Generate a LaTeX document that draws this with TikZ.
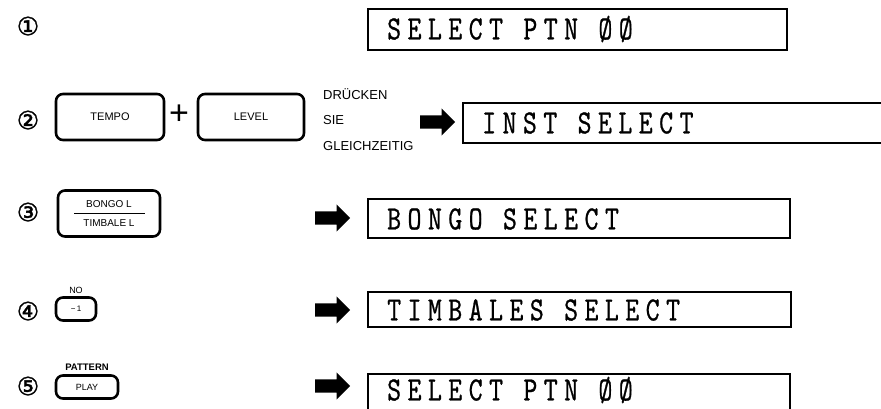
\documentclass[tikz,border=0pt]{standalone}
\usepackage{fontspec}
\newfontfamily\sansf{Liberation Sans}
\newfontfamily\circf{DejaVu Sans}[FakeBold=1.5]
\newfontfamily\lcdf{lmmono10-regular.otf}[FakeStretch=0.78,LetterSpace=19,FakeBold=0.7]
\usetikzlibrary{shapes.arrows}
\tikzset{
  lcdbox/.style={draw, line width=1.4pt},
  lcdtext/.style={anchor=west, inner sep=0, font=\lcdf\fontsize{34}{34}\selectfont},
  keybox/.style={draw, line width=2.6pt, rounded corners=7pt, inner sep=0, font=\sansf\fontsize{11}{11}\selectfont},
  num/.style={inner sep=0, font=\circf\fontsize{25}{25}\selectfont},
  small/.style={anchor=west, inner sep=0, font=\sansf\fontsize{13}{13}\selectfont},
  tiny/.style={inner sep=0, font=\sansf\fontsize{9}{9}\selectfont},
  blockarrow/.style={single arrow, fill=black, draw=none, minimum height=35pt, minimum width=27pt,
    single arrow head extend=7pt, single arrow head indent=0pt, inner xsep=0pt, inner ysep=6.5pt, anchor=west},
}
\begin{document}
\begin{tikzpicture}[x=1pt,y=-1pt]
\useasboundingbox (0,0) rectangle (881,408);
\begin{scope}
\clip (0,0) rectangle (881,408);
% row 1
\node[num] (n1) at (28,26) {①};
\draw[lcdbox] (368,9) rectangle (787,50);
\node[lcdtext] (d1) at (387,29) {SELECT PTN ØØ};
% row 2
\node[num] (n2) at (28,120) {②};
\node[keybox, minimum width=108pt, minimum height=46pt] (tempo) at (110,117) {TEMPO};
\node[inner sep=0, font=\sansf\fontsize{34}{34}\selectfont] (plus) at (179,115) {+};
\node[keybox, minimum width=106pt, minimum height=46pt] (level) at (251,117) {LEVEL};
\node[small] (t1) at (323,94) {DRÜCKEN};
\node[small] (t2) at (323,120) {SIE};
\node[small] (t3) at (323,146) {GLEICHZEITIG};
\node[blockarrow] (a2) at (420,122) {};
\draw[lcdbox] (463,103) rectangle (900,143);
\node[lcdtext] (d2) at (482,123) {INST SELECT};
% row 3
\node[num] (n3) at (28,212) {③};
\node[keybox, minimum width=102pt, minimum height=46pt] (bongo) at (109,213.5) {};
\node[tiny, font=\sansf\fontsize{10}{10}\selectfont] (b1) at (109,204) {BONGO L};
\draw[line width=0.8pt] (74,213) -- (145,213);
\node[tiny, font=\sansf\fontsize{10}{10}\selectfont] (b2) at (109,223) {TIMBALE L};
\node[blockarrow] (a3) at (315,218) {};
\draw[lcdbox] (368,199) rectangle (790,238);
\node[lcdtext] (d3) at (387,219) {BONGO SELECT};
% row 4
\node[num] (n4) at (28,311) {④};
\node[tiny] (no) at (76,290) {NO};
\node[keybox, minimum width=40pt, minimum height=23pt, font=\sansf\fontsize{8}{8}\selectfont] (minus) at (76,309) {−\,1};
\node[blockarrow] (a4) at (315,310) {};
\draw[lcdbox] (368,292) rectangle (791,327);
\node[lcdtext] (d4) at (387,310) {TIMBALES SELECT};
% row 5
\node[num] (n5) at (28,386) {⑤};
\node[tiny, font=\sansf\bfseries\fontsize{9.5}{9.5}\selectfont] (pat) at (87,367) {PATTERN};
\node[keybox, minimum width=62pt, minimum height=23pt, font=\sansf\fontsize{9}{9}\selectfont] (play) at (87,387) {PLAY};
\node[blockarrow] (a5) at (315,386) {};
\draw[lcdbox] (368,374) rectangle (790,430);
\node[lcdtext] (d5) at (387,390) {SELECT PTN ØØ};
\end{scope}
\end{tikzpicture}
\end{document}
